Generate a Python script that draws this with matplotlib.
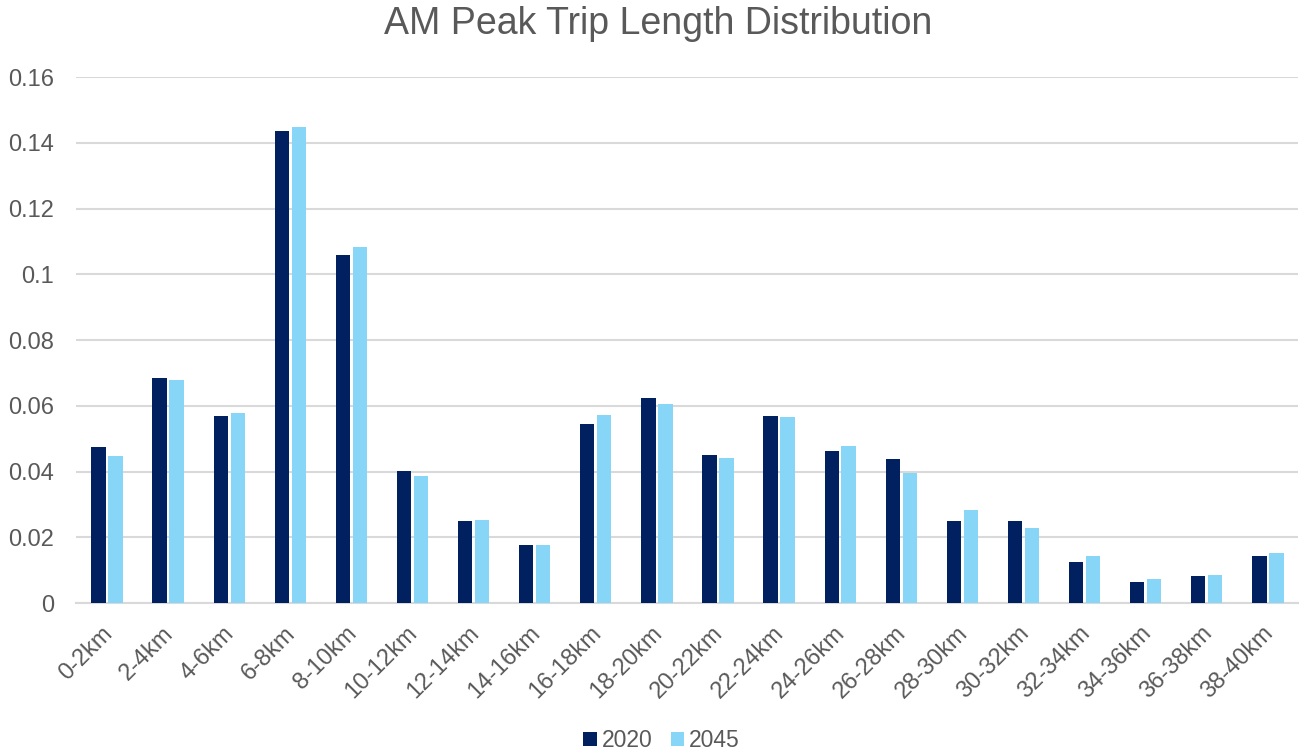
import matplotlib
matplotlib.use("Agg")
import matplotlib.pyplot as plt
import matplotlib.transforms as mtransforms
import numpy as np

categories = ["0-2km", "2-4km", "4-6km", "6-8km", "8-10km", "10-12km", "12-14km",
              "14-16km", "16-18km", "18-20km", "20-22km", "22-24km", "24-26km",
              "26-28km", "28-30km", "30-32km", "32-34km", "34-36km", "36-38km", "38-40km"]
share_2020 = [0.0475, 0.0683, 0.0568, 0.1436, 0.1058, 0.0402, 0.0250, 0.0176, 0.0544, 0.0623,
              0.0450, 0.0568, 0.0461, 0.0438, 0.0250, 0.0249, 0.0125, 0.0063, 0.0081, 0.0144]
share_2045 = [0.0447, 0.0678, 0.0578, 0.1448, 0.1083, 0.0387, 0.0252, 0.0176, 0.0571, 0.0606,
              0.0441, 0.0567, 0.0479, 0.0394, 0.0283, 0.0227, 0.0143, 0.0072, 0.0085, 0.0152]
y_ticks = [0, 0.02, 0.04, 0.06, 0.08, 0.1, 0.12, 0.14, 0.16]
y_tick_labels = ["0", "0.02", "0.04", "0.06", "0.08", "0.1", "0.12", "0.14", "0.16"]

plt.rcParams["font.family"] = ["Liberation Sans", "DejaVu Sans"]
text_color = "#595959"
label_size = 17

fig = plt.figure(figsize=(13.01, 7.55), dpi=100)
ax = fig.add_axes([0.0588, 0.2013, 0.9392, 0.6967])

x = np.arange(len(categories))
w = 0.235
off = 0.139
ax.bar(x - off, share_2020, width=w, color="#002060", label="2020", zorder=3)
ax.bar(x + off, share_2045, width=w, color="#87D5F7", label="2045", zorder=3)

ax.set_xlim(-0.5, len(categories) - 0.5)
ax.set_ylim(0, 0.16)
ax.set_yticks(y_ticks)
ax.set_yticklabels(y_tick_labels)
ax.yaxis.grid(True, color="#d9d9d9", linewidth=1.5, zorder=0)
ax.set_axisbelow(True)
for s in ["top", "right", "left"]:
    ax.spines[s].set_visible(False)
ax.spines["bottom"].set_color("#d9d9d9")
ax.spines["bottom"].set_linewidth(1.5)
ax.tick_params(axis="y", length=0, labelsize=label_size, labelcolor=text_color, pad=16)
ax.tick_params(axis="x", length=0, labelsize=label_size, labelcolor=text_color, pad=14)
ax.set_xticks(x)
ax.set_xticklabels(categories, rotation=45, ha="right", rotation_mode="anchor")

# nudge the slanted category labels slightly to the left
shift = mtransforms.ScaledTranslation(-6 / 100, 0, fig.dpi_scale_trans)
for lbl in ax.get_xticklabels():
    lbl.set_transform(lbl.get_transform() + shift)

fig.text(0.506, 0.968, "AM Peak Trip Length Distribution", ha="center", va="center",
         fontsize=27, color=text_color)

leg = fig.legend(loc="center", bbox_to_anchor=(0.5085, 0.019), ncol=2, frameon=False,
                 fontsize=16.5, handlelength=0.6, handleheight=0.6, handletextpad=0.2,
                 columnspacing=0.8, labelcolor=text_color)

fig.savefig("out.png", dpi=100)
